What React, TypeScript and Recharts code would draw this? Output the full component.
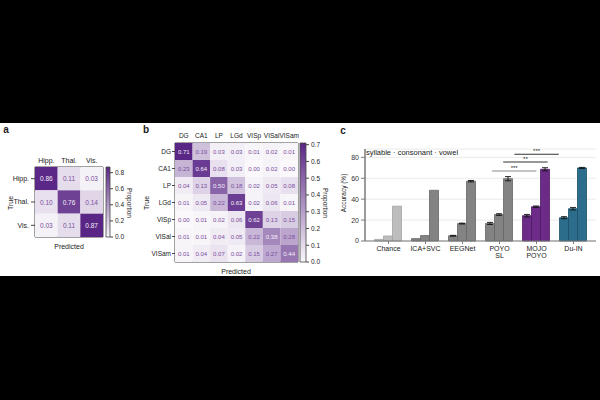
import React from 'react';
import {
  ScatterChart,
  Scatter,
  XAxis,
  YAxis,
  ReferenceArea,
  BarChart,
  Bar,
  Cell,
  ErrorBar,
  CartesianGrid,
  ReferenceLine,
} from 'recharts';

const FONT = '"Liberation Sans", Arial, sans-serif';

// panel a: region decoding confusion matrix
const regionLabels = ['Hipp.', 'Thal.', 'Vis.'];
const regionMatrix = [
  [0.86, 0.11, 0.03],
  [0.10, 0.76, 0.14],
  [0.03, 0.11, 0.87],
];
const regionBarTicks = [0, 0.2, 0.4, 0.6, 0.8];

// panel b: brain area confusion matrix
const areaLabels = ['DG', 'CA1', 'LP', 'LGd', 'VISp', 'VISal', 'VISam'];
const areaMatrix = [
  [0.71, 0.19, 0.03, 0.03, 0.01, 0.02, 0.01],
  [0.23, 0.64, 0.08, 0.03, 0.00, 0.02, 0.00],
  [0.04, 0.13, 0.50, 0.18, 0.02, 0.05, 0.08],
  [0.01, 0.05, 0.22, 0.63, 0.02, 0.06, 0.01],
  [0.00, 0.01, 0.02, 0.06, 0.62, 0.13, 0.15],
  [0.01, 0.01, 0.04, 0.05, 0.22, 0.38, 0.28],
  [0.01, 0.04, 0.07, 0.02, 0.15, 0.27, 0.44],
];
const areaBarTicks = [0, 0.1, 0.2, 0.3, 0.4, 0.5, 0.6, 0.7];

// panel c: speech decoding accuracy
const methods = ['Chance', 'ICA+SVC', 'EEGNet', 'POYO\nSL', 'MOJO\nPOYO', 'Du-IN'];
const syllableAcc = [1.5, 2.3, 5, 16.8, 24.2, 22.3];
const consonantAcc = [4.8, 5.2, 16.7, 25.3, 32.8, 30.9];
const vowelAcc = [33.3, 48.5, 57.2, 59.6, 68.6, 69.9];
const syllableErr = [0, 0, 0.4, 1, 1.2, 1];
const consonantErr = [0, 0, 0.4, 0.8, 0.7, 1.2];
const vowelErr = [0, 0, 0.7, 2, 1.5, 0.5];
const accTicks = [0, 20, 40, 60, 80];

// significance brackets between POYO SL and MOJO POYO, one per target
const sigFrom = [3, 3, 3];
const sigTo = [4, 4, 4];
const sigBar = [0, 1, 2];
const sigHeight = [67, 75.5, 83];
const sigStars = ['***', '**', '***'];

const LOW = [250, 248, 251];
const HIGH = [90, 38, 134];

const purple = (t: number) => {
  const c = LOW.map((l, i) => Math.round(l + (HIGH[i] - l) * Math.max(0, Math.min(1, t))));
  return `rgb(${c[0]},${c[1]},${c[2]})`;
};

const Txt = ({ x, y, children, size = 7, rotate = 0, weight = 400, anchor = 'middle' }: any) => (
  <div
    style={{
      position: 'absolute',
      left: x,
      top: y,
      transform: `translate(${anchor === 'start' ? '0' : '-50%'},-50%) rotate(${rotate}deg)`,
      fontSize: size,
      fontWeight: weight,
      whiteSpace: 'nowrap',
      lineHeight: 1,
      color: '#1a1a1a',
    }}
  >
    {children}
  </div>
);

function Heatmap({ labels, matrix, left, top, width, height, margin, cellW, cellH, fontSize, tickFont, yTickSize, yTickMargin, xTickMargin }: any) {
  const n = labels.length;
  const max = Math.max(...matrix.flat());
  const data = matrix.flatMap((row: number[], r: number) => row.map((v, c) => ({ x: c, y: r, v })));
  const idx = labels.map((_: string, i: number) => i);
  const shape = (p: any) => {
    const t = p.payload.v / max;
    return (
      <g>
        <rect x={p.cx - cellW / 2} y={p.cy - cellH / 2} width={cellW} height={cellH} fill={purple(t)} />
        <text
          x={p.cx}
          y={p.cy}
          textAnchor="middle"
          dominantBaseline="central"
          fontSize={fontSize}
          fill={t > 0.5 ? '#f4eef8' : '#7b4ea1'}
        >
          {p.payload.v.toFixed(2)}
        </text>
      </g>
    );
  };
  return (
    <div style={{ position: 'absolute', left, top }}>
      <ScatterChart width={width} height={height} margin={margin}>
        <XAxis
          xAxisId="top"
          orientation="top"
          type="number"
          dataKey="x"
          domain={[-0.5, n - 0.5]}
          ticks={idx}
          interval={0}
          tickFormatter={(i: number) => labels[i]}
          axisLine={false}
          tickLine={false}
          tickSize={2}
          tickMargin={xTickMargin}
          height={20}
          tick={{ fontSize: tickFont, fill: '#222' }}
        />
        <XAxis
          xAxisId="bottom"
          orientation="bottom"
          type="number"
          domain={[-0.5, n - 0.5]}
          allowDataOverflow
          ticks={idx}
          interval={0}
          tickFormatter={() => ''}
          axisLine={false}
          tickLine={{ stroke: '#444' }}
          tickSize={3}
          height={14}
        />
        <YAxis
          type="number"
          dataKey="y"
          reversed
          domain={[-0.5, n - 0.5]}
          ticks={idx}
          interval={0}
          tickFormatter={(i: number) => labels[i]}
          axisLine={false}
          tickLine={{ stroke: '#444' }}
          tickSize={yTickSize}
          tickMargin={yTickMargin}
          width={30}
          tick={{ fontSize: tickFont, fill: '#222' }}
        />
        <Scatter xAxisId="top" data={data} shape={shape} isAnimationActive={false} />
        <ReferenceArea
          xAxisId="top"
          x1={-0.5}
          x2={n - 0.5}
          y1={-0.5}
          y2={n - 0.5}
          fill="none"
          fillOpacity={0}
          stroke="#444"
          strokeWidth={1}
          ifOverflow="visible"
        />
      </ScatterChart>
    </div>
  );
}

function ColorBar({ max, ticks, left, top, height, barW, id, margin }: any) {
  return (
    <div style={{ position: 'absolute', left, top }}>
      <BarChart
        width={margin.left + barW + 30}
        height={height}
        data={[{ k: 'p', v: max }]}
        margin={margin}
        barCategoryGap={0}
      >
        <defs>
          <linearGradient id={id} x1="0" y1="1" x2="0" y2="0">
            <stop offset="0%" stopColor={purple(0)} />
            <stop offset="100%" stopColor={purple(1)} />
          </linearGradient>
        </defs>
        <XAxis dataKey="k" hide />
        <YAxis
          orientation="right"
          domain={[0, max]}
          ticks={ticks}
          interval={0}
          tickFormatter={(v: number) => v.toFixed(1)}
          axisLine={false}
          tickLine={{ stroke: '#444' }}
          tickSize={3}
          tickMargin={2}
          width={30}
          tick={{ fontSize: 6.5, fill: '#222' }}
        />
        <Bar dataKey="v" fill={`url(#${id})`} stroke="#444" strokeWidth={0.8} isAnimationActive={false} />
      </BarChart>
    </div>
  );
}

const groupFill = ['#bdbdbd', '#838383', '#838383', '#838383', '#6c2b87', '#2c6d8c'];
const groupEdge = ['#a3a3a3', '#666666', '#666666', '#666666', '#4d1a66', '#1c506a'];

const MethodTick = ({ x, y, payload }: any) => {
  const lines = String(methods[payload.index] ?? payload.value).split('\n');
  return (
    <text x={x} y={y} textAnchor="middle" fontSize={7} fill="#222">
      {lines.map((l, i) => (
        <tspan key={i} x={x} dy={i === 0 ? 4.5 : 7.5}>
          {l}
        </tspan>
      ))}
    </text>
  );
};

function AccuracyChart() {
  const data = methods.map((m, i) => ({
    method: m,
    syllable: syllableAcc[i],
    consonant: consonantAcc[i],
    vowel: vowelAcc[i],
    syllableErr: syllableErr[i],
    consonantErr: consonantErr[i],
    vowelErr: vowelErr[i],
  }));
  const series = [
    ['syllable', 'syllableErr'],
    ['consonant', 'consonantErr'],
    ['vowel', 'vowelErr'],
  ];
  // bar offset within a group, in category units
  const barOffset = [-0.252, 0, 0.252];
  return (
    <div style={{ position: 'absolute', left: 330, top: 140 }}>
      <BarChart
        width={270}
        height={125}
        data={data}
        margin={{ top: 9, right: 4, bottom: 4, left: 5 }}
        barGap={0}
        barCategoryGap={4.5}
      >
        <CartesianGrid vertical={false} stroke="#e4e4e4" strokeWidth={0.8} />
        <XAxis
          dataKey="method"
          interval={0}
          padding={{ left: 5, right: 4 }}
          axisLine={{ stroke: '#7a7a7a', strokeWidth: 1.2 }}
          tickLine={{ stroke: '#7a7a7a' }}
          tickSize={3}
          height={20}
          tick={<MethodTick />}
        />
        <XAxis
          xAxisId="sig"
          type="number"
          domain={[-0.5, 5.5]}
          allowDataOverflow
          padding={{ left: 5, right: 4 }}
          hide
        />
        <YAxis
          domain={[0, 88]}
          ticks={accTicks}
          interval={0}
          axisLine={{ stroke: '#7a7a7a', strokeWidth: 1.5 }}
          tickLine={{ stroke: '#7a7a7a' }}
          tickSize={4}
          tickMargin={2}
          width={30}
          tick={{ fontSize: 7, fill: '#333' }}
        />
        {series.map(([key, err]) => (
          <Bar key={key} dataKey={key} isAnimationActive={false} strokeWidth={0.8}>
            {methods.map((m, i) => (
              <Cell key={m} fill={groupFill[i]} stroke={groupEdge[i]} />
            ))}
            <ErrorBar dataKey={err} width={3} stroke="#111" strokeWidth={0.9} />
          </Bar>
        ))}
        {sigStars.map((s, i) => (
          <ReferenceLine
            key={i}
            xAxisId="sig"
            segment={[
              { x: sigFrom[i] + barOffset[sigBar[i]], y: sigHeight[i] },
              { x: sigTo[i] + barOffset[sigBar[i]], y: sigHeight[i] },
            ]}
            stroke={i === 0 ? '#8a8a8a' : '#333'}
            strokeWidth={1.1}
            ifOverflow="visible"
            label={{ value: s, position: 'top', fontSize: 6, fill: '#222', offset: 1 }}
          />
        ))}
      </BarChart>
    </div>
  );
}

export default function App() {
  return (
    <div
      style={{
        position: 'absolute',
        left: 0,
        top: 0,
        width: 600,
        height: 400,
        background: '#000',
        fontFamily: FONT,
        overflow: 'hidden',
      }}
    >
      <div style={{ position: 'absolute', left: 0, top: 123, width: 600, height: 153, background: '#fff' }} />

      {/* a */}
      <Txt x={6} y={130} size={10} weight={700}>a</Txt>
      <Heatmap
        labels={regionLabels}
        matrix={regionMatrix}
        left={0}
        top={140}
        width={140}
        height={125}
        margin={{ top: 7, right: 37, bottom: 14, left: 5 }}
        cellW={68 / 3}
        cellH={70 / 3}
        fontSize={6.5}
        tickFont={7}
        yTickSize={4}
        yTickMargin={2}
        xTickMargin={2}
      />
      <ColorBar
        max={Math.max(...regionMatrix.flat())}
        ticks={regionBarTicks}
        left={104}
        top={160}
        height={90}
        barW={4}
        id="cbarA"
        margin={{ top: 7, right: 0, bottom: 13, left: 2 }}
      />
      <Txt x={10} y={203} rotate={-90}>True</Txt>
      <Txt x={69} y={246}>Predicted</Txt>
      <Txt x={129} y={203} rotate={90} size={6.5}>Proportion</Txt>

      {/* b */}
      <Txt x={146} y={130} size={10} weight={700}>b</Txt>
      <Heatmap
        labels={areaLabels}
        matrix={areaMatrix}
        left={140}
        top={118}
        width={170}
        height={160}
        margin={{ top: 5, right: 12, bottom: 2, left: 5 }}
        cellW={123 / 7}
        cellH={119 / 7}
        fontSize={6}
        tickFont={6.5}
        yTickSize={3}
        yTickMargin={1}
        xTickMargin={3}
      />
      <ColorBar
        max={Math.max(...areaMatrix.flat())}
        ticks={areaBarTicks}
        left={298}
        top={136}
        height={136}
        barW={6}
        id="cbarB"
        margin={{ top: 7, right: 0, bottom: 10, left: 2 }}
      />
      <Txt x={146} y={203} rotate={-90}>True</Txt>
      <Txt x={236} y={271}>Predicted</Txt>
      <Txt x={325} y={203} rotate={90} size={6.5}>Proportion</Txt>

      {/* c */}
      <Txt x={343} y={131} size={10} weight={700}>c</Txt>
      <AccuracyChart />
      <Txt x={344} y={193} rotate={-90} size={6.5}>Accuracy (%)</Txt>
      <Txt x={366} y={153} size={7.5} anchor="start">syllable · consonant · vowel</Txt>
    </div>
  );
}
